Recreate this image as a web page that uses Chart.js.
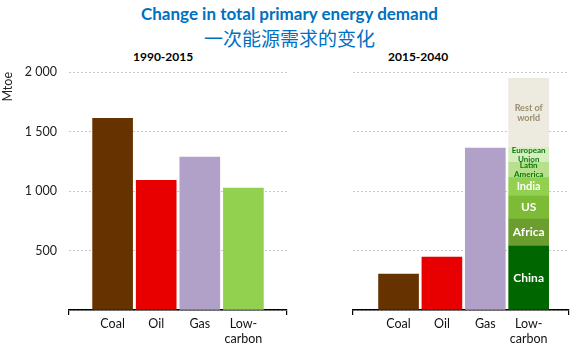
<!DOCTYPE html>
<html>
<head>
<meta charset="utf-8">
<script src="https://cdn.jsdelivr.net/npm/chart.js@4/dist/chart.umd.min.js"></script>
<style>
  body { margin: 0; background: #fff; }
  #wrap { position: relative; width: 579px; height: 351px; overflow: hidden; font-family: Lato, "Open Sans", sans-serif; }
  .t { position: absolute; left: 0; width: 579px; text-align: center; color: #0070c0; }
  #t1 { top: 3px; font-size: 17px; font-weight: bold; }
  #t2 { top: 24px; font-size: 19px; font-family: "Noto Sans CJK SC", sans-serif; }
  .p { position: absolute; top: 49px; font-size: 12px; font-weight: bold; color: #000; }
  canvas { position: absolute; top: 0; }
</style>
</head>
<body>
<div id="wrap">
  <div class="t" id="t1">Change in total primary energy demand</div>
  <div class="t" id="t2">一次能源需求的变化</div>
  <div class="p" style="left:133px">1990-2015</div>
  <div class="p" style="left:388px">2015-2040</div>
  <canvas id="left" width="290" height="351" style="left:0"></canvas>
  <canvas id="right" width="289" height="351" style="left:290px"></canvas>
</div>
<script>
// fuels on the x axis
var categories = ['Coal', 'Oil', 'Gas', ['Low-', 'carbon']];
var fuelColors = ['#663300', '#e80000', '#b1a0c7', '#92d050'];

// change 1990-2015, Mtoe
var change1990 = [1610, 1090, 1285, 1025];

// change 2015-2040, Mtoe (coal, oil, gas)
var change2015 = [302, 445, 1361];

// low-carbon 2015-2040 split by region, bottom to top
var regions = ['China', 'Africa', 'US', 'India', 'Latin America', 'European Union', 'Rest of world'];
var regionLabels = [['China'], ['Africa'], ['US'], ['India'], ['Latin', 'America'], ['European', 'Union'], ['Rest of', 'world']];
var lowCarbon2015 = [538, 227, 193, 154, 129, 123, 583];
var regionColors = ['#006600', '#6c9d2f', '#7dba35', '#92d050', '#b8df8c', '#d5edbf', '#edeae0'];
var regionText = [
  {c: '#fff', f: 'bold 12px Lato'},
  {c: '#fff', f: 'bold 12px Lato'},
  {c: '#fff', f: 'bold 12px Lato'},
  {c: '#fff', f: 'bold 11px Lato'},
  {c: '#0a7a0a', f: 'bold 8px Lato'},
  {c: '#0a7a0a', f: 'bold 8px Lato'},
  {c: '#9c8e6e', f: 'bold 9px Lato'}
];

Chart.defaults.font.family = 'Lato, "Open Sans", sans-serif';
Chart.defaults.color = '#222';

// x axis is linear so the axis line can run past the outer bars like the original
function xAxis(lo, hi) {
  return {
    type: 'linear',
    min: lo, max: hi,
    offset: false,
    afterBuildTicks: function (s) {
      s.ticks = [lo, 0, 1, 2, 3, hi].map(function (v) { return {value: v}; });
    },
    grid: {
      offset: false,
      drawOnChartArea: false,
      tickLength: 5,
      lineWidth: 1.2,
      color: function (c) { return (c.index === 0 || c.index === 5) ? '#000' : 'rgba(0,0,0,0)'; }
    },
    border: { display: true, color: '#000', width: 1.5 },
    ticks: {
      font: { size: 12.5 }, color: '#111', padding: 1, maxRotation: 0, autoSkip: false,
      callback: function (v) { return (v === Math.round(v) && v >= 0 && v < categories.length) ? categories[v] : ''; }
    },
    afterFit: function (s) { s.height = 41; }
  };
}

function yAxis(showTicks, w) {
  return {
    min: 0, max: 2000,
    grid: { color: '#c9c9c9', drawTicks: false },
    border: { display: false, dash: [2, 2] },
    ticks: {
      display: showTicks,
      stepSize: 500,
      padding: 12,
      font: { size: 12.5 },
      color: '#222',
      callback: function (v) { return v === 0 ? '' : (v >= 1000 ? String(v).replace(/(\d)(\d{3})$/, '$1 $2') : String(v)); }
    },
    title: showTicks ? { display: true, text: 'Mtoe', align: 'end', font: { size: 12.5 }, color: '#222', padding: 0 } : { display: false },
    afterFit: function (s) { s.width = w; }
  };
}

function baseOpts(padRight) {
  return {
    responsive: false,
    animation: false,
    layout: { padding: { top: 72, right: padRight, bottom: 0, left: 0 } },
    plugins: { legend: { display: false }, tooltip: { enabled: false } }
  };
}

function points(vals) {
  return vals.map(function (v, i) { return {x: i, y: v}; });
}

var leftOpts = baseOpts(3);
leftOpts.scales = { x: xAxis(-1, 4), y: yAxis(true, 69) };
new Chart(document.getElementById('left'), {
  type: 'bar',
  data: {
    datasets: [{
      data: points(change1990),
      backgroundColor: fuelColors,
      barThickness: 40
    }]
  },
  options: leftOpts
});

// labels inside the stacked low-carbon bar
var regionLabelPlugin = {
  id: 'regionLabels',
  afterDatasetsDraw: function (chart) {
    var ctx = chart.ctx;
    ctx.save();
    ctx.textAlign = 'center';
    ctx.textBaseline = 'middle';
    for (var i = 0; i < regions.length; i++) {
      var el = chart.getDatasetMeta(i + 1).data[0];
      var cy = (el.y + el.base) / 2;
      var lines = regionLabels[i];
      var lh = parseInt(regionText[i].f.split(' ')[1]) + 1;
      ctx.fillStyle = regionText[i].c;
      ctx.font = regionText[i].f;
      for (var j = 0; j < lines.length; j++) {
        ctx.fillText(lines[j], el.x, cy + (j - (lines.length - 1) / 2) * lh);
      }
    }
    ctx.restore();
  }
};

var rightSets = [{
  label: 'fossil',
  data: points(change2015),
  backgroundColor: fuelColors,
  barThickness: 40
}];
for (var i = 0; i < regions.length; i++) {
  rightSets.push({
    label: regions[i],
    data: [{x: 3, y: lowCarbon2015[i]}],
    backgroundColor: regionColors[i],
    barThickness: 40
  });
}

var rightOpts = baseOpts(10);
rightOpts.scales = {
  x: Object.assign(xAxis(-1.05, 3.93), { stacked: true }),
  y: Object.assign(yAxis(false, 63), { stacked: true })
};
new Chart(document.getElementById('right'), {
  type: 'bar',
  data: { datasets: rightSets },
  options: rightOpts,
  plugins: [regionLabelPlugin]
});
</script>
</body>
</html>
